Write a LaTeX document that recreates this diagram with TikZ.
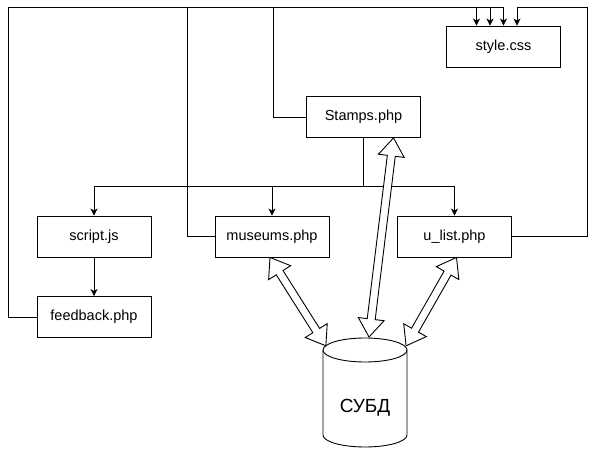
\documentclass[tikz,border=0pt]{standalone}
\usepackage{fontspec}
\setmainfont{Liberation Sans}
\usetikzlibrary{arrows.meta,calc}

\begin{document}
\begin{tikzpicture}[x=1pt,y=1pt,
        box/.style = {draw, minimum width=114pt, minimum height=41pt, inner sep=0pt, font=\fontsize{14.5}{17}\selectfont},
        conn/.style = {-{Stealth[length=7pt,width=7pt,inset=2pt]}},
        dbl/.style = {draw, fill=white, line join=miter},
        line width=0.9pt
    ]
    \useasboundingbox (0,0) rectangle (596,449);
    % boxes
    \node[box] (css) at (503.5,402.5) {style.css};
    \node[box] (stamps) at (363.5,332) {Stamps.php};
    \node[box] (js) at (94,212.5) {script.js};
    \node[box] (mus) at (272,212.5) {museums.php};
    \node[box] (ul) at (454.5,212.5) {u\_list.php};
    \node[box] (fb) at (94,132) {feedback.php};
    % database
    \draw (323,99) -- (323,14) arc[start angle=180,end angle=360,x radius=42,y radius=12] -- (407,99);
    \draw (365,99) ellipse[x radius=42,y radius=12];
    \node[font=\fontsize{19}{22}\selectfont] (db) at (365,41) {СУБД};
    \coordinate (db1) at (326,103);
    \coordinate (db2) at (369,112);
    \coordinate (db3) at (406,103);
    \coordinate (mus1) at ($(mus.south)+(-2,0)$);
    \coordinate (st1) at ($(stamps.south)+(30,0)$);
    \coordinate (ul1) at ($(ul.south)+(2,0)$);
    % inputs of style.css
    \coordinate (in1) at ($(css.north)+(-27,0)$);
    \coordinate (in2) at ($(css.north)+(-13.5,0)$);
    \coordinate (in3) at ($(css.north)+(0,0)$);
    \coordinate (in4) at ($(css.north)+(13.5,0)$);
    \draw[conn] (fb.west) -| (8,442) -| (in1);
    \draw[conn] (mus.west) -| (187,442) -| (in2);
    \draw[conn] (stamps.west) -| (273,442) -| (in3);
    \draw[conn] (ul.east) -| (587,442) -| (in4);
    % Stamps.php to pages
    \draw[conn] (stamps.south) -- ++(0,-48.5) -| (js.north);
    \draw[conn] (stamps.south) -- ++(0,-48.5) -| (mus.north);
    \draw[conn] (stamps.south) -- ++(0,-48.5) -| (ul.north);
    \draw[conn] (js.south) -- (fb.north);
    % links to the database
    \foreach \a/\b in {mus1/db1, st1/db2, ul1/db3} {
        \path let \p1 = ($(\b)-(\a)$), \n1 = {veclen(\x1,\y1)}, \n2 = {atan2(\y1,\x1)} in
            \pgfextra{\xdef\arrlen{\n1}\xdef\arrang{\n2}};
        \draw[dbl, shift={(\a)}, rotate=\arrang] (0,0) -- (18,13) -- (18,4) -- (\arrlen-18,4)
            -- (\arrlen-18,13) -- (\arrlen,0) -- (\arrlen-18,-13) -- (\arrlen-18,-4)
            -- (18,-4) -- (18,-13) -- cycle;
    }
\end{tikzpicture}
\end{document}
